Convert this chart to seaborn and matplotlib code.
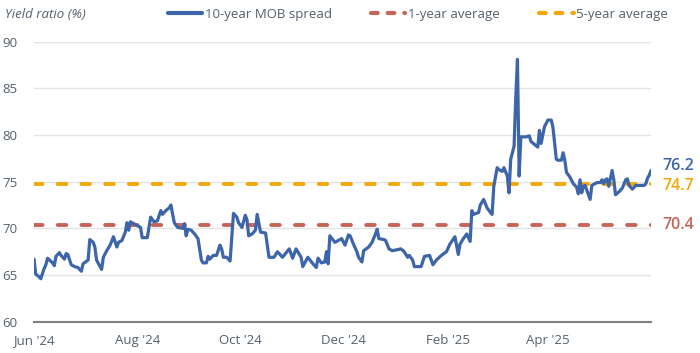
import matplotlib
matplotlib.use("Agg")
import matplotlib.pyplot as plt
import matplotlib.dates as mdates
from matplotlib.lines import Line2D
import pandas as pd
import seaborn as sns

# values
DATES = [
    "2024-06-01", "2024-06-02", "2024-06-04", "2024-06-05", "2024-06-07", "2024-06-08",
    "2024-06-09", "2024-06-12", "2024-06-13", "2024-06-14", "2024-06-16", "2024-06-17",
    "2024-06-19", "2024-06-20", "2024-06-21", "2024-06-23", "2024-06-25", "2024-06-27",
    "2024-06-29", "2024-06-30", "2024-07-03", "2024-07-04", "2024-07-06", "2024-07-07",
    "2024-07-08", "2024-07-11", "2024-07-12", "2024-07-14", "2024-07-16", "2024-07-18",
    "2024-07-20", "2024-07-21", "2024-07-23", "2024-07-25", "2024-07-26", "2024-07-27",
    "2024-07-28", "2024-07-30", "2024-08-01", "2024-08-03", "2024-08-04", "2024-08-07",
    "2024-08-09", "2024-08-11", "2024-08-13", "2024-08-15", "2024-08-16", "2024-08-18",
    "2024-08-20", "2024-08-21", "2024-08-22", "2024-08-23", "2024-08-25", "2024-08-28",
    "2024-08-29", "2024-08-30", "2024-08-31", "2024-09-02", "2024-09-04", "2024-09-06",
    "2024-09-08", "2024-09-09", "2024-09-11", "2024-09-12", "2024-09-13", "2024-09-15",
    "2024-09-17", "2024-09-19", "2024-09-20", "2024-09-21", "2024-09-23", "2024-09-25",
    "2024-09-27", "2024-09-29", "2024-09-30", "2024-10-02", "2024-10-04", "2024-10-05",
    "2024-10-06", "2024-10-08", "2024-10-10", "2024-10-11", "2024-10-13", "2024-10-16",
    "2024-10-18", "2024-10-21", "2024-10-23", "2024-10-26", "2024-10-30", "2024-11-01",
    "2024-11-03", "2024-11-06", "2024-11-07", "2024-11-10", "2024-11-13", "2024-11-15",
    "2024-11-16", "2024-11-18", "2024-11-20", "2024-11-21", "2024-11-22", "2024-11-23",
    "2024-11-26", "2024-11-28", "2024-11-30", "2024-12-02", "2024-12-04", "2024-12-05",
    "2024-12-07", "2024-12-09", "2024-12-10", "2024-12-12", "2024-12-13", "2024-12-16",
    "2024-12-18", "2024-12-20", "2024-12-21", "2024-12-22", "2024-12-25", "2024-12-26",
    "2024-12-28", "2024-12-30", "2025-01-04", "2025-01-06", "2025-01-08", "2025-01-09",
    "2025-01-11", "2025-01-12", "2025-01-16", "2025-01-18", "2025-01-21", "2025-01-23",
    "2025-01-25", "2025-01-28", "2025-01-31", "2025-02-02", "2025-02-05", "2025-02-07",
    "2025-02-08", "2025-02-10", "2025-02-12", "2025-02-14", "2025-02-15", "2025-02-16",
    "2025-02-19", "2025-02-20", "2025-02-22", "2025-02-24", "2025-02-26", "2025-02-27",
    "2025-02-28", "2025-03-02", "2025-03-03", "2025-03-05", "2025-03-06", "2025-03-08",
    "2025-03-09", "2025-03-10", "2025-03-12", "2025-03-13", "2025-03-14", "2025-03-15",
    "2025-03-16", "2025-03-19", "2025-03-21", "2025-03-22", "2025-03-24", "2025-03-26",
    "2025-03-27", "2025-03-28", "2025-03-30", "2025-04-01", "2025-04-03", "2025-04-04",
    "2025-04-06", "2025-04-07", "2025-04-09", "2025-04-10", "2025-04-11", "2025-04-12",
    "2025-04-14", "2025-04-16", "2025-04-18", "2025-04-19", "2025-04-20", "2025-04-21",
    "2025-04-22", "2025-04-23", "2025-04-24", "2025-04-26", "2025-04-27", "2025-04-30",
    "2025-05-02", "2025-05-03", "2025-05-04", "2025-05-05", "2025-05-06", "2025-05-07",
    "2025-05-09", "2025-05-10", "2025-05-11", "2025-05-13", "2025-05-15", "2025-05-17",
    "2025-05-18", "2025-05-19", "2025-05-21", "2025-05-23", "2025-05-26", "2025-05-28",
    "2025-05-29", "2025-05-30", "2025-05-31", "2025-06-01",
]
MOB_SPREAD = [
    66.7, 65.1, 64.8, 64.6, 65.7, 66.1,
    66.8, 66.3, 66.0, 67.0, 67.4, 67.1,
    66.7, 67.3, 67.2, 66.1, 65.9, 65.8,
    65.4, 66.2, 66.6, 68.8, 68.5, 68.0,
    66.6, 65.6, 66.9, 67.6, 68.2, 69.1,
    68.0, 68.5, 68.7, 69.6, 70.6, 69.8,
    70.7, 70.5, 70.3, 70.1, 69.0, 69.0,
    71.2, 70.7, 70.8, 71.9, 71.5, 71.9,
    72.2, 72.5, 71.5, 70.6, 70.1, 70.0,
    70.5, 69.2, 69.9, 69.8, 69.4, 68.9,
    66.6, 66.3, 66.3, 67.0, 66.7, 67.1,
    67.1, 68.2, 67.8, 66.9, 66.9, 66.5,
    71.6, 71.2, 70.6, 70.1, 71.4, 70.9,
    69.2, 69.4, 69.8, 71.5, 69.6, 69.5,
    66.9, 66.9, 67.5, 66.9, 67.8, 66.8,
    67.8, 66.9, 65.9, 66.9, 66.2, 65.8,
    66.8, 66.3, 66.4, 67.5, 66.2, 69.2,
    68.5, 68.7, 68.9, 68.2, 69.3, 69.2,
    68.3, 67.5, 66.9, 66.4, 67.6, 68.0,
    68.5, 69.4, 69.9, 68.9, 68.8, 68.7,
    67.8, 67.6, 67.8, 67.5, 66.9, 67.1,
    66.6, 65.9, 65.9, 67.0, 67.1, 66.1,
    66.6, 67.1, 67.5, 68.3, 69.1, 67.2,
    68.3, 68.9, 69.4, 68.6, 71.9, 71.5,
    71.7, 72.5, 73.1, 72.2, 71.7, 71.5,
    74.5, 76.5, 76.3, 76.1, 76.5, 75.6,
    73.8, 77.4, 78.8, 84.0, 88.1, 75.6,
    79.8, 79.8, 79.9, 79.3, 79.0, 78.7,
    80.5, 79.1, 80.9, 81.6, 81.6, 80.8,
    77.4, 77.3, 77.3, 78.1, 77.3, 76.0,
    75.5, 74.8, 74.4, 73.7, 75.2, 73.8,
    74.5, 74.6, 74.1, 73.1, 74.6, 74.9,
    74.9, 75.2, 74.8, 75.2, 75.3, 74.5,
    76.2, 75.2, 73.6, 73.9, 74.3, 75.2,
    75.3, 74.6, 74.2, 74.6, 74.6, 74.6,
    74.8, 75.4, 75.7, 76.2,
]
AVG_1Y = 70.4
AVG_5Y = 74.7
SERIES_LABELS = ["10-year MOB spread", "1-year average", "5-year average"]
Y_TICKS = [60, 65, 70, 75, 80, 85, 90]
X_TICKS = ["2024-06-01", "2024-08-01", "2024-10-01", "2024-12-01", "2025-02-01", "2025-04-01"]

BLUE = "#3d65a9"
RED = "#c8635a"
ORANGE = "#f2a800"
TEXT = "#55606b"

df = pd.DataFrame({"date": pd.to_datetime(DATES), "spread": MOB_SPREAD})

sns.set_theme(style="white")
plt.rcParams["font.family"] = ["Open Sans", "DejaVu Sans"]

fig = plt.figure(figsize=(7.0, 3.53), dpi=100)
ax = fig.add_axes([0.0486, 0.0887, 0.8814, 0.7933])

ax.set_axisbelow(True)
ax.yaxis.grid(True, color="#e4e4e4", lw=1.0)
ax.xaxis.grid(False)

dash_kw = dict(lw=2.8, dashes=(2.2, 3.9), dash_capstyle="round")
ax.axhline(AVG_1Y, color=RED, **dash_kw)
ax.axhline(AVG_5Y, color=ORANGE, **dash_kw)
sns.lineplot(data=df, x="date", y="spread", color=BLUE, lw=2.3, ax=ax,
             legend=False)

ax.set_ylim(60, 90)
ax.set_xlim(pd.Timestamp("2024-06-01"), pd.Timestamp("2025-06-01"))
ax.set_yticks(Y_TICKS)
ax.set_xticks(pd.to_datetime(X_TICKS))
ax.xaxis.set_major_formatter(mdates.DateFormatter("%b '%y"))
ax.tick_params(axis="both", length=0, labelsize=9.5, colors=TEXT)
ax.tick_params(axis="y", pad=12)
ax.tick_params(axis="x", pad=9)
ax.set_xlabel("")
ax.set_ylabel("")
sns.despine(ax=ax, left=True, top=True, right=True)
ax.spines["bottom"].set_color("#808080")
ax.spines["bottom"].set_linewidth(1.5)

# end-of-line value labels (small vertical nudges keep them apart)
for val, col, dy in [(MOB_SPREAD[-1], BLUE, 3), (AVG_5Y, ORANGE, -1), (AVG_1Y, RED, 0)]:
    ax.annotate(f"{val:.1f}", xy=(1.0, val), xycoords=("axes fraction", "data"),
                xytext=(8, dy), textcoords="offset points", va="center",
                ha="left", fontsize=11.5, fontweight="semibold", color=col)

fig.text(0.007, 0.96, "Yield ratio (%)", style="italic", fontsize=9.5,
         color=TEXT, va="center", ha="left")

handles = [
    Line2D([], [], color=BLUE, lw=3.0),
    Line2D([], [], color=RED, lw=3.0, dashes=(1.6, 2.4), dash_capstyle="round"),
    Line2D([], [], color=ORANGE, lw=3.0, dashes=(1.6, 2.4), dash_capstyle="round"),
]
fig.legend(handles, SERIES_LABELS, loc="center", ncol=3,
           bbox_to_anchor=(0.597, 0.96), frameon=False, fontsize=9.5,
           handlelength=2.6, handletextpad=0.2, columnspacing=3.0,
           labelcolor=TEXT)

fig.savefig("out.png", dpi=100)
